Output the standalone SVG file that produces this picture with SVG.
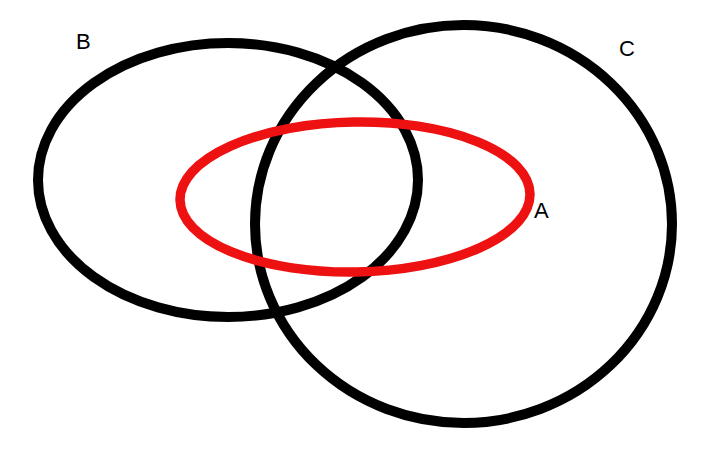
<svg xmlns="http://www.w3.org/2000/svg" width="713" height="469" viewBox="0 0 713 469">
<style>
.set{fill:none;stroke:#000;stroke-width:10}
.red{fill:none;stroke:#ee1111;stroke-width:9.5}
.lbl{font-family:"Liberation Sans",Arial,sans-serif;font-size:22px;fill:#000}
</style>
<rect width="713" height="469" fill="#fff"/>
<g id="node-B">
<ellipse class="set" cx="228" cy="180" rx="190" ry="137"/>
<text class="lbl" x="76" y="49">B</text>
</g>
<g id="node-C">
<ellipse class="set" cx="463.5" cy="224" rx="208.5" ry="199"/>
<text class="lbl" x="619" y="56">C</text>
</g>
<g id="node-A">
<ellipse class="red" cx="355" cy="197" rx="175" ry="75" transform="rotate(-1 355 197)"/>
<text class="lbl" x="534" y="218">A</text>
</g>
<g id="connectors"></g>
</svg>
